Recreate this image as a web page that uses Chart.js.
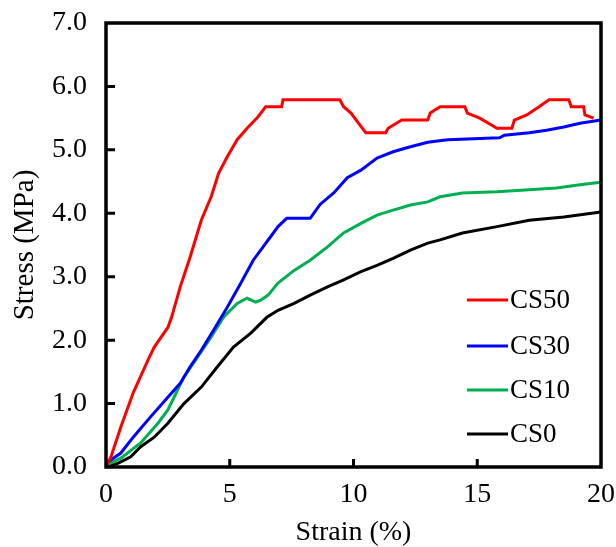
<!DOCTYPE html>
<html>
<head>
<meta charset="utf-8">
<script src="https://cdn.jsdelivr.net/npm/chart.js@4"></script>
<style>
    body { margin: 0; background: #fff; }
    #wrap { width: 616px; height: 547px; }
</style>
</head>
<body>
<div id="wrap"><canvas id="stressChart"></canvas></div>
<script>
// Stress-strain readings (strain in %, stress in MPa)
const cs50Strain = [0, 0.2, 0.6, 1.1, 1.7, 1.95, 2.5, 2.65, 3.0, 3.4, 3.85, 4.25, 4.55, 4.9, 5.3, 5.7, 6.1, 6.45, 7.1, 7.15, 9.45, 9.6, 9.9, 10.2, 10.5, 11.3, 11.4, 11.95, 13.0, 13.1, 13.5, 14.5, 14.6, 15.1, 15.8, 16.4, 16.5, 17.0, 17.5, 17.9, 18.7, 18.8, 19.3, 19.35, 19.7];
const cs50Stress = [0, 0.16, 0.63, 1.17, 1.69, 1.89, 2.2, 2.36, 2.84, 3.31, 3.89, 4.26, 4.63, 4.89, 5.16, 5.34, 5.5, 5.68, 5.68, 5.79, 5.79, 5.68, 5.58, 5.42, 5.27, 5.27, 5.34, 5.47, 5.47, 5.58, 5.68, 5.68, 5.58, 5.5, 5.34, 5.34, 5.47, 5.55, 5.68, 5.79, 5.79, 5.68, 5.68, 5.55, 5.5];

const cs30Strain = [0, 0.6, 1.1, 1.8, 2.5, 3.0, 3.4, 3.85, 4.35, 4.9, 5.45, 5.95, 6.25, 6.65, 6.95, 7.3, 8.25, 8.65, 9.2, 9.75, 10.3, 10.95, 11.6, 12.3, 13.0, 13.8, 15.9, 16.1, 17.1, 17.8, 18.5, 19.15, 20];
const cs30Stress = [0.06, 0.22, 0.47, 0.79, 1.1, 1.32, 1.58, 1.84, 2.16, 2.52, 2.9, 3.26, 3.42, 3.63, 3.79, 3.92, 3.92, 4.14, 4.32, 4.56, 4.68, 4.87, 4.97, 5.05, 5.12, 5.16, 5.19, 5.23, 5.27, 5.31, 5.36, 5.42, 5.47];

const cs10Strain = [0, 0.6, 1.4, 2.1, 2.5, 2.75, 3.15, 3.7, 4.25, 4.75, 5.3, 5.7, 6.05, 6.25, 6.55, 6.95, 7.6, 8.25, 8.95, 9.6, 10.3, 10.95, 11.6, 12.3, 13.0, 13.5, 14.4, 15.8, 17.1, 18.2, 19.15, 20];
const cs10Stress = [0.03, 0.14, 0.38, 0.69, 0.9, 1.1, 1.42, 1.73, 2.05, 2.36, 2.58, 2.66, 2.6, 2.63, 2.71, 2.9, 3.1, 3.26, 3.47, 3.69, 3.84, 3.97, 4.05, 4.13, 4.18, 4.26, 4.32, 4.34, 4.37, 4.4, 4.45, 4.49];

const cs0Strain = [0, 0.5, 1.0, 1.4, 1.95, 2.5, 3.15, 3.85, 4.5, 5.15, 5.85, 6.5, 6.95, 7.6, 8.25, 8.95, 9.6, 10.3, 10.95, 11.6, 12.3, 13.0, 13.5, 14.4, 15.8, 17.1, 18.5, 20];
const cs0Stress = [0, 0.06, 0.16, 0.32, 0.47, 0.69, 1.0, 1.26, 1.58, 1.89, 2.11, 2.36, 2.47, 2.58, 2.71, 2.84, 2.95, 3.08, 3.18, 3.29, 3.42, 3.53, 3.58, 3.69, 3.79, 3.89, 3.94, 4.02];

const seriesLabels = ['CS50', 'CS30', 'CS10', 'CS0'];
const seriesColors = ['#ff0000', '#0000ff', '#00b050', '#000000'];
const xTickValues = [0, 5, 10, 15, 20];
const yTickValues = [0, 1, 2, 3, 4, 5, 6, 7];

const toPoints = (xs, ys) => xs.map((x, i) => ({ x: x, y: ys[i] }));
const seriesPoints = [
    toPoints(cs50Strain, cs50Stress),
    toPoints(cs30Strain, cs30Stress),
    toPoints(cs10Strain, cs10Stress),
    toPoints(cs0Strain, cs0Stress)
];

Chart.defaults.font.family = "'Liberation Serif', 'Times New Roman', serif";
Chart.defaults.color = '#000';

// Box round the plot with inward tick marks
const framePlugin = {
    id: 'frame',
    afterDatasetsDraw(chart) {
        const { ctx, chartArea: a, scales: { x, y } } = chart;
        ctx.save();
        ctx.strokeStyle = '#000';
        ctx.lineWidth = 3;
        ctx.beginPath();
        yTickValues.forEach(v => {
            if (v <= 0 || v >= 7) return;
            const py = y.getPixelForValue(v);
            ctx.moveTo(a.left, py);
            ctx.lineTo(a.left + 9, py);
        });
        xTickValues.forEach(v => {
            if (v <= 0 || v >= 20) return;
            const px = x.getPixelForValue(v);
            ctx.moveTo(px, a.bottom);
            ctx.lineTo(px, a.bottom - 8);
        });
        ctx.stroke();
        ctx.lineWidth = 3.5;
        ctx.strokeRect(a.left, a.top, a.right - a.left, a.bottom - a.top);
        ctx.restore();
    }
};

// Legend drawn inside the plot, lower right
const insideLegend = {
    id: 'insideLegend',
    afterDraw(chart) {
        const { ctx } = chart;
        const rowY = [300, 346, 390, 434];
        ctx.save();
        ctx.font = "27px 'Liberation Serif'";
        ctx.textBaseline = 'middle';
        ctx.textAlign = 'left';
        chart.data.datasets.forEach((ds, i) => {
            ctx.strokeStyle = ds.borderColor;
            ctx.lineWidth = 3;
            ctx.beginPath();
            ctx.moveTo(467, rowY[i]);
            ctx.lineTo(508, rowY[i]);
            ctx.stroke();
            ctx.fillStyle = '#000';
            ctx.fillText(ds.label, 510, rowY[i] + 1);
        });
        ctx.restore();
    }
};

// fixed axis sizes, no extra edge padding from labels
const fixSize = (w, h) => scale => {
    if (w) scale.width = w;
    if (h) scale.height = h;
    scale.paddingTop = 0;
    scale.paddingBottom = 0;
    scale.paddingLeft = 0;
    scale.paddingRight = 0;
};

new Chart(document.getElementById('stressChart'), {
    type: 'line',
    data: {
        datasets: seriesLabels.map((label, i) => ({
            label: label,
            data: seriesPoints[i],
            borderColor: seriesColors[i],
            backgroundColor: seriesColors[i],
            borderWidth: 3,
            pointRadius: 0,
            tension: 0,
            fill: false
        }))
    },
    options: {
        responsive: true,
        maintainAspectRatio: false,
        animation: false,
        layout: {
            padding: { top: 23, right: 15, left: 0, bottom: 0 }
        },
        plugins: {
            legend: { display: false },
            tooltip: { enabled: false }
        },
        scales: {
            x: {
                type: 'linear',
                min: 0,
                max: 20,
                afterFit: fixSize(0, 80),
                afterBuildTicks: scale => { scale.ticks = xTickValues.map(v => ({ value: v })); },
                grid: { display: false, drawTicks: false },
                border: { display: false },
                ticks: {
                    padding: 11,
                    font: { size: 28 },
                    callback: v => v
                },
                title: {
                    display: true,
                    text: 'Strain (%)',
                    font: { size: 28, lineHeight: 1 },
                    padding: { top: 0, bottom: 0 }
                }
            },
            y: {
                min: 0,
                max: 7,
                afterFit: fixSize(106, 0),
                afterBuildTicks: scale => { scale.ticks = yTickValues.map(v => ({ value: v })); },
                grid: { display: false, drawTicks: false },
                border: { display: false },
                ticks: {
                    padding: 19,
                    font: { size: 28 },
                    callback: v => v.toFixed(1)
                },
                title: {
                    display: true,
                    text: 'Stress (MPa)',
                    font: { size: 29, lineHeight: 1 },
                    padding: { top: 11, bottom: 0 }
                }
            }
        }
    },
    plugins: [framePlugin, insideLegend]
});
</script>
</body>
</html>
